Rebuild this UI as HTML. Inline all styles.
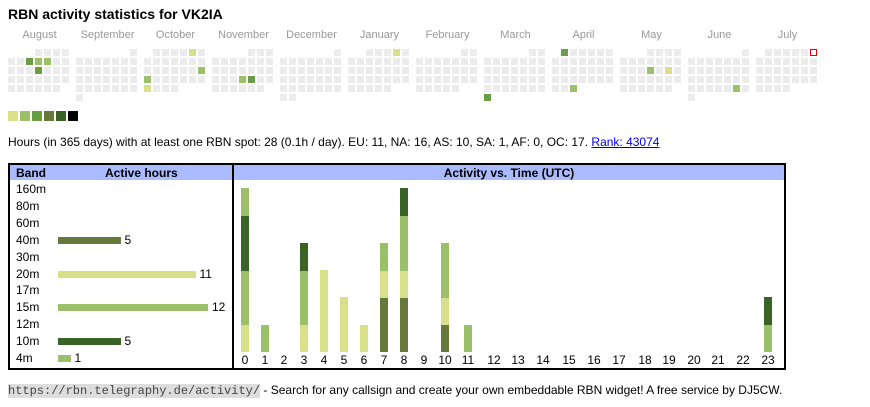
<!DOCTYPE html>
<html><head><meta charset="utf-8"><style>
body{margin:0;width:870px;height:407px;background:#fff;font-family:"Liberation Sans",Arial,sans-serif;position:relative;overflow:hidden;color:#000}
.a{position:absolute}
.c{position:absolute;width:7px;height:7px;background:#ececec}
.m{position:absolute;top:29px;font-size:11px;color:#999;width:63px;text-align:center}
.lbl{position:absolute;font-size:12px;left:16px}
.hb{position:absolute;height:7px}
.vb{position:absolute;width:8px}
.xl{position:absolute;top:353px;font-size:12px;width:24px;text-align:center}
</style></head><body>
<div class="a" style="left:8px;top:6px;font-size:14px;font-weight:bold">RBN activity statistics for VK2IA</div>
<div id="cal"></div>
<div class="a" style="left:8px;top:135px;font-size:12px">Hours (in 365 days) with at least one RBN spot: 28 (0.1h / day). EU: 11, NA: 16, AS: 10, SA: 1, AF: 0, OC: 17. <span style="color:#00e;text-decoration:underline">Rank: 43074</span></div>

<div class="a" style="left:8px;top:163px;width:222px;height:203px;border:2px solid #000"></div>
<div class="a" style="left:10px;top:165px;width:222px;height:15px;background:#aabbff"></div>
<div class="a" style="left:16px;top:166px;font-size:12px;font-weight:bold">Band</div>
<div class="a" style="left:105px;top:166px;font-size:12px;font-weight:bold">Active hours</div>

<div class="a" style="left:232px;top:163px;width:550px;height:203px;border:2px solid #000"></div>
<div class="a" style="left:234px;top:165px;width:550px;height:15px;background:#aabbff"></div>
<div class="a" style="left:234px;top:166px;width:550px;text-align:center;font-size:12px;font-weight:bold">Activity vs. Time (UTC)</div>
<div id="bands"></div>
<div id="chart"></div>

<div class="a" style="left:8px;top:383px;font-size:12px"><span style="font-family:'Liberation Mono',monospace;background:#ddd;color:#444">https://rbn.telegraphy.de/activity/</span> - Search for any callsign and create your own embeddable RBN widget! A free service by DJ5CW.</div>

<script>
var Y='#d9e08a',L='#9cc06a',M='#6a9e45',O='#66783a',D='#3a6426';
var months=[['August',3,31],['September',6,30],['October',1,31],['November',4,30],['December',6,31],['January',2,31],['February',5,28],['March',5,31],['April',1,30],['May',3,31],['June',6,30],['July',1,31]];
var col={'0,1,2':M,'0,1,3':L,'0,1,4':L,'0,2,3':M,'2,0,5':Y,'2,2,6':L,'2,3,0':L,'2,4,0':Y,'3,3,3':L,'3,3,4':M,'5,0,5':Y,'7,5,0':M,'8,0,1':M,'8,4,2':L,'9,2,3':L,'9,2,5':Y,'10,4,5':L};
var h='';
months.forEach(function(m,i){
 var x0=8+68*i;
 h+='<div class="m" style="left:'+x0+'px">'+m[0]+'</div>';
 for(var d=0;d<m[2];d++){var p=d+m[1],r=Math.floor(p/7),c=p%7;
  var k=i+','+r+','+c,bg=col[k]||'#ececec',ex='';
  if(i==11&&r==0&&c==6){bg='#fff';ex='box-sizing:border-box;border:1px solid #e00;';}
  h+='<div class="c" style="left:'+(x0+9*c)+'px;top:'+(49+9*r)+'px;background:'+bg+';'+ex+'"></div>';}
});
[Y,L,M,O,D,'#000'].forEach(function(c,i){h+='<div class="a" style="left:'+(8+12*i)+'px;top:111px;width:10px;height:10px;background:'+c+'"></div>';});
document.getElementById('cal').innerHTML=h;

var bands=[['160m',0],['80m',0],['60m',0],['40m',5,O],['30m',0],['20m',11,Y],['17m',0],['15m',12,L],['12m',0],['10m',5,D],['4m',1,L]];
h='';
bands.forEach(function(b,i){var y=189+16.9*i;
 h+='<div class="lbl" style="top:'+(y-7)+'px">'+b[0]+'</div>';
 if(b[1]){var w=12.5*b[1];h+='<div class="hb" style="left:58px;top:'+(y-3)+'px;width:'+w+'px;background:'+b[2]+'"></div><div class="a" style="left:'+(62+w)+'px;top:'+(y-7)+'px;font-size:12px">'+b[1]+'</div>';}
});
document.getElementById('bands').innerHTML=h;

var stacks={0:[Y,L,L,D,D,L],1:[L],3:[Y,L,L,D],4:[Y,Y,Y],5:[Y,Y],6:[Y],7:[O,O,Y,L],8:[O,O,Y,L,L,D],10:[O,Y,L,L],11:[L],23:[L,D]};
var cxs=[245,265,284,304,324,344,364,384,404,424,445,468,494,518,543,569,594,619,645,669,694,718,743,768];
h='';var U=27.33,B=352;
for(var t=0;t<24;t++){var cx=cxs[t];
 h+='<div class="xl" style="left:'+(cx-12)+'px">'+t+'</div>';
 (stacks[t]||[]).forEach(function(c,j){h+='<div class="vb" style="left:'+(cx-4)+'px;top:'+(B-U*(j+1))+'px;height:'+(U+0.5)+'px;background:'+c+'"></div>';});
}
document.getElementById('chart').innerHTML=h;
</script>
</body></html>
